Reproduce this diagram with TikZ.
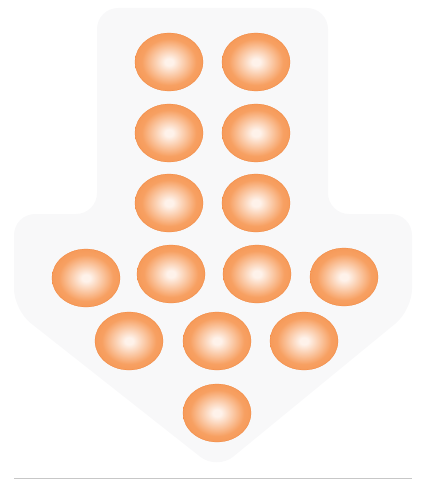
\documentclass[tikz,border=0pt]{standalone}
\usepackage{xcolor}
\usepackage{tikz}
\usetikzlibrary{shapes.geometric}
\definecolor{OrbIn}{RGB}{254,242,234}
\definecolor{OrbMid}{RGB}{247,160,98}
\definecolor{OrbOut}{RGB}{241,126,48}
\definecolor{ArrowBack}{RGB}{248,248,249}
\pgfdeclareradialshading{orbshade}{\pgfpoint{0bp}{0bp}}{color(0bp)=(OrbIn); color(3bp)=(OrbIn); color(20bp)=(OrbMid); color(50bp)=(OrbOut)}

\begin{document}
\begin{tikzpicture}[
    x=0.5mm,y=-0.5mm,
    orb/.style={ellipse, minimum width=34mm, minimum height=29mm, inner sep=0pt, shading=orbshade, draw=OrbOut, line width=0.3pt}
  ]
    \useasboundingbox (0,0) rectangle (425,482);
    % faint arrow behind the orbs
    \fill[ArrowBack, rounded corners=30pt] (97,8) -- (328,8) -- (328,214) -- (412,214) -- (412,310) -- (217,470) -- (14,310) -- (14,214) -- (97,214) -- cycle;
    \draw[black!22, line width=0.6pt] (14,478) -- (412,478);
    % shaft
    \foreach \y/\r in {62/1,133/2,203/3} {
      \node[orb] (o\r a) at (169,\y) {};
      \node[orb] (o\r b) at (256,\y) {};
    }
    % head
    \foreach \x/\y/\r in {86/278/a,171/274/b,257/274/c,344/277/d} {\node[orb] (o4\r) at (\x,\y) {};}
    \foreach \x/\r in {129/a,217/b,304/c} {\node[orb] (o5\r) at (\x,341) {};}
    \node[orb] (o6a) at (217,413) {};
  \end{tikzpicture}
\end{document}
